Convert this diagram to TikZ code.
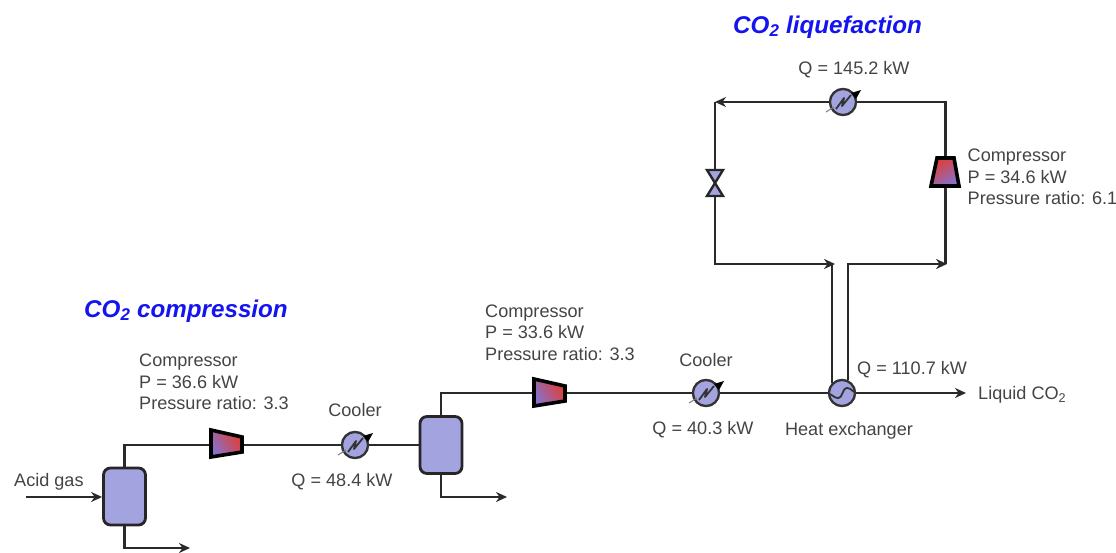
\documentclass[tikz,border=0pt]{standalone}
\usepackage{fontspec}
\setmainfont{Liberation Sans}
\usetikzlibrary{arrows.meta}
\definecolor{eqfill}{HTML}{A3A3E0}
\definecolor{lbl}{HTML}{444444}
\definecolor{pipe}{HTML}{2A2A2A}
\definecolor{compred}{HTML}{E23C32}
\definecolor{comppur}{HTML}{8672CC}
\definecolor{ttl}{HTML}{1414F0}
\tikzset{
  lab/.style={text=lbl,font=\fontsize{18.1}{21.5}\selectfont,inner sep=0pt,align=left},
  ttlstyle/.style={text=ttl,font=\fontsize{24.2}{27}\selectfont\bfseries\itshape,inner sep=0pt},
  vessel/.style={draw=black!85,line width=2.8pt,fill=eqfill,rounded corners=7pt,minimum width=42pt,minimum height=57pt,inner sep=0pt},
  exch/.style={circle,draw=black!80,line width=2.2pt,fill=eqfill,minimum size=26pt,inner sep=0pt},
  flow/.style={draw=pipe,line width=2.8pt},
  flowar/.style={flow,-{Stealth[length=11pt,width=10pt]}},
  compbody/.style={draw=black,line width=3.6pt,line join=miter},
  valvebody/.style={draw=black!85,line width=2.4pt,fill=eqfill,line join=miter},
  sym/.style={draw=black!80,line width=1.8pt,line join=round}
}
\newcommand{\coolmark}[1]{%
  \draw[gray,line width=1pt] ([shift={(-17,10)}]#1.center) -- ([shift={(-9,5)}]#1.center);
  \draw[sym] ([shift={(-7,7)}]#1.center) -- ([shift={(1,-4)}]#1.center) -- ([shift={(-1,4)}]#1.center) -- ([shift={(8,-7)}]#1.center);
  \fill[black] ([shift={(18,-12)}]#1.center) -- ([shift={(8,-9)}]#1.center) -- ([shift={(13,-3)}]#1.center) -- cycle;
}
\begin{document}
\begin{tikzpicture}[x=1pt,y=-1pt]
\fill[white] (0,0) rectangle (1116,553);
\useasboundingbox (0,0) rectangle (1116,553);

% anchors of the units
\coordinate (c1in) at (211,445);
\coordinate (c1out) at (242,445);
\coordinate (c2in) at (534,393);
\coordinate (c2out) at (565,393);
\coordinate (c3top) at (945.5,158);
\coordinate (c3bot) at (945.5,186);
\coordinate (vtop) at (715,169);
\coordinate (vbot) at (715,197);
\coordinate (feed) at (26,497);
\coordinate (bot1) at (190,548);
\coordinate (bot2) at (507,497);
\coordinate (prod) at (966,393);
\coordinate (topL) at (715,102);
\coordinate (topR) at (945.5,102);
\coordinate (jL) at (835,264);
\coordinate (jR) at (947,264);

% equipment nodes
\node[vessel] (v1) at (124.5,496.5) {};
\node[vessel] (v2) at (441,445) {};
\node[exch] (cool1) at (355,445) {};
\node[exch] (cool2) at (706,393) {};
\node[exch] (cool3) at (843,102) {};
\node[exch] (hx) at (842,393) {};

% connectors
\draw[flowar] (feed) -- (v1.west |- feed);
\draw[flow] (v1.north) |- (c1in);
\draw[flow] (c1out) -- (cool1);
\draw[flow] (cool1) -- (cool1 -| v2.west);
\draw[flowar] (v1.south) |- (bot1);
\draw[flow] (v2.north) |- (c2in);
\draw[flowar] (v2.south) |- (bot2);
\draw[flow] (c2out) -- (cool2);
\draw[flow] (cool2) -- (hx);
\draw[flowar] (hx) -- (prod);
\draw[flow] (hx.135) -- (hx.135 |- jL);
\draw[flow] (hx.65) -- (hx.65 |- jR);
\draw[flowar] ([xshift=-1.4pt]hx.65 |- jR) -- (jR);
\draw[flow] (c3bot) -- (c3bot |- jR);
\draw[flow] (c3top) -- (topR) -- (cool3);
\draw[flowar] (cool3) -- (topL);
\draw[flow] (topL) -- (vtop);
\draw[flow] (vbot) -- (vbot |- jL);
\draw[flowar] ([xshift=-1.4pt]vbot |- jL) -- (jL);

% redraw exchangers above the pipes
\node[exch] at (cool1) {};
\node[exch] at (cool2) {};
\node[exch] at (cool3) {};
\node[exch] at (hx) {};
\coolmark{cool1}
\coolmark{cool2}
\coolmark{cool3}
\draw[sym,rounded corners=1.5pt] ([shift={(-12,1)}]hx.center) -- ([shift={(-6,5)}]hx.center) -- ([shift={(-2,5)}]hx.center) -- ([shift={(3,-5)}]hx.center) -- ([shift={(7,-5)}]hx.center) -- ([shift={(12,-1)}]hx.center);

% compressors
\shadedraw[compbody,left color=comppur,right color=compred,shading angle=120]
  (211,430) -- (242,437) -- (242,452) -- (211,457) -- cycle;
\shadedraw[compbody,left color=comppur,right color=compred,shading angle=120]
  (534,379) -- (565,386) -- (565,401) -- (534,406) -- cycle;
\shadedraw[compbody,left color=compred,right color=comppur,shading angle=30]
  (937,158) -- (954,158) -- (959,186) -- (931,186) -- cycle;

% valve
\draw[valvebody] (707,170) -- (723,170) -- (707,196) -- (723,196) -- cycle;

% labels
\node[lab,anchor=west] (t1) at (139,382) {Compressor\\P = 36.6 kW\\Pressure ratio: 3.3};
\node[lab,anchor=west] (t2) at (485,332.5) {Compressor\\P = 33.6 kW\\Pressure ratio: 3.3};
\node[lab,anchor=west] (t3) at (967.5,177) {Compressor\\P = 34.6 kW\\Pressure ratio: 6.1};
\node[lab] (t4) at (355,410.5) {Cooler};
\node[lab] (t5) at (342,481.5) {Q = 48.4 kW};
\node[lab] (t6) at (706,360) {Cooler};
\node[lab] (t7) at (703,429.5) {Q = 40.3 kW};
\node[lab,anchor=west] (t8) at (857,370) {Q = 110.7 kW};
\node[lab] (t9) at (849,430.5) {Heat exchanger};
\node[lab,anchor=west] (t10) at (978,395) {Liquid CO\textsubscript{2}};
\node[lab,anchor=west] (t11) at (14,481.5) {Acid gas};
\node[lab] (t12) at (854,70) {Q = 145.2 kW};
\node[ttlstyle,anchor=west] (t13) at (733,27) {CO\textsubscript{2} liquefaction};
\node[ttlstyle,anchor=west] (t14) at (84,311) {CO\textsubscript{2} compression};
\end{tikzpicture}
\end{document}
